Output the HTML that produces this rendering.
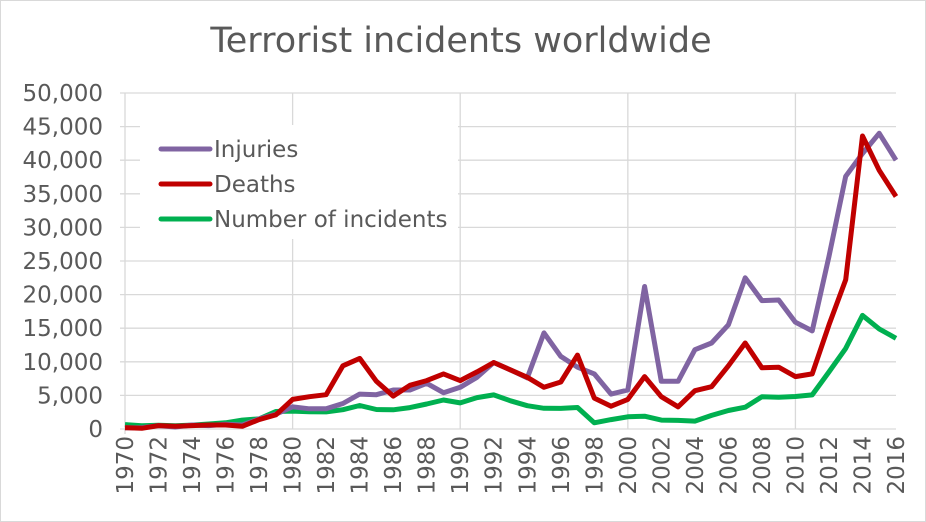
<!DOCTYPE html>
<html><head><meta charset="utf-8"><style>
body{margin:0;background:#fff;}
svg{display:block;font-family:"DejaVu Sans",sans-serif;}
</style></head><body>
<svg id="s" width="926" height="522" xmlns="http://www.w3.org/2000/svg">
<rect x="0.5" y="0.5" width="925" height="521" fill="#fff" stroke="#d9d9d9"/>
<text x="461" y="52" font-size="35" fill="#595959" text-anchor="middle" font-family="DejaVu Sans, sans-serif">Terrorist incidents worldwide</text>
<g id="g"></g>
</svg>
<script>
var NS="http://www.w3.org/2000/svg",g=document.getElementById('g');
function el(t,a,txt){var e=document.createElementNS(NS,t);for(var k in a)e.setAttribute(k,a[k]);if(txt!=null)e.textContent=txt;g.appendChild(e);return e;}
var X0=125,X1=896,Y0=429,Y50=93;
function X(i){return X0+(X1-X0)*i/46;}
function Y(v){return Y0-(Y0-Y50)*v/50;}
for(var k=0;k<=10;k++){var y=Y(k*5);el('line',{x1:120,x2:X1,y1:y,y2:y,stroke:'#d9d9d9','stroke-width':1.3});
el('text',{x:103,y:y+8,'font-size':23,fill:'#595959','text-anchor':'end','font-family':'DejaVu Sans, sans-serif'},(k*5000).toLocaleString('en-US'));}
for(var i=10;i<46;i+=10){el('line',{x1:X(i),x2:X(i),y1:Y50,y2:Y0,stroke:'#d9d9d9','stroke-width':1.3});}
el('line',{x1:X0,x2:X0,y1:Y50,y2:Y0+5,stroke:'#d9d9d9','stroke-width':1.3});
for(var i=0;i<=46;i+=2){var x=X(i);el('text',{x:0,y:0,'font-size':23,fill:'#595959','text-anchor':'end','font-family':'DejaVu Sans, sans-serif',transform:'translate('+(x+8)+',436) rotate(-90)'},String(1970+i));}
el('rect',{x:140,y:125,width:318,height:114,fill:'#fff'});
var inj=[0.2,0.2,0.5,0.3,0.6,0.5,0.7,0.6,1.5,2.2,3.3,3.0,3.0,3.8,5.2,5.1,5.8,5.8,6.8,5.4,6.2,7.7,9.9,8.8,7.6,14.3,10.8,9.2,8.2,5.2,5.8,21.2,7.1,7.1,11.8,12.8,15.5,22.5,19.1,19.2,15.9,14.6,25.7,37.6,41,44,40];
var dea=[0.2,0.1,0.5,0.4,0.5,0.6,0.6,0.4,1.4,2.1,4.4,4.8,5.1,9.4,10.5,7.1,4.9,6.5,7.2,8.2,7.2,8.5,9.9,8.8,7.7,6.2,7.0,11.0,4.6,3.4,4.4,7.8,4.8,3.3,5.7,6.3,9.4,12.8,9.1,9.2,7.8,8.2,15.5,22.2,43.6,38.5,34.6];
var inc=[0.65,0.47,0.57,0.47,0.58,0.74,0.92,1.32,1.5,2.6,2.66,2.58,2.54,2.87,3.5,2.9,2.86,3.18,3.72,4.32,3.89,4.68,5.07,4.2,3.46,3.08,3.06,3.2,0.93,1.4,1.81,1.91,1.33,1.28,1.17,2.02,2.76,3.24,4.8,4.72,4.83,5.08,8.5,12,16.9,14.9,13.5];
function line(d,c){el('polyline',{points:d.map(function(v,i){return X(i).toFixed(1)+','+Y(v).toFixed(1);}).join(' '),fill:'none',stroke:c,'stroke-width':5,'stroke-linejoin':'round'});}
line(inc,'#00B050');line(inj,'#8064A2');line(dea,'#C00000');
var L=[['Injuries','#8064A2',149],['Deaths','#C00000',184],['Number of incidents','#00B050',219]];
L.forEach(function(l){el('line',{x1:161,x2:210,y1:l[2],y2:l[2],stroke:l[1],'stroke-width':5,'stroke-linecap':'round'});
el('text',{x:214,y:l[2]+8,'font-size':23,fill:'#595959','font-family':'DejaVu Sans, sans-serif'},l[0]);});
</script>
</body></html>
